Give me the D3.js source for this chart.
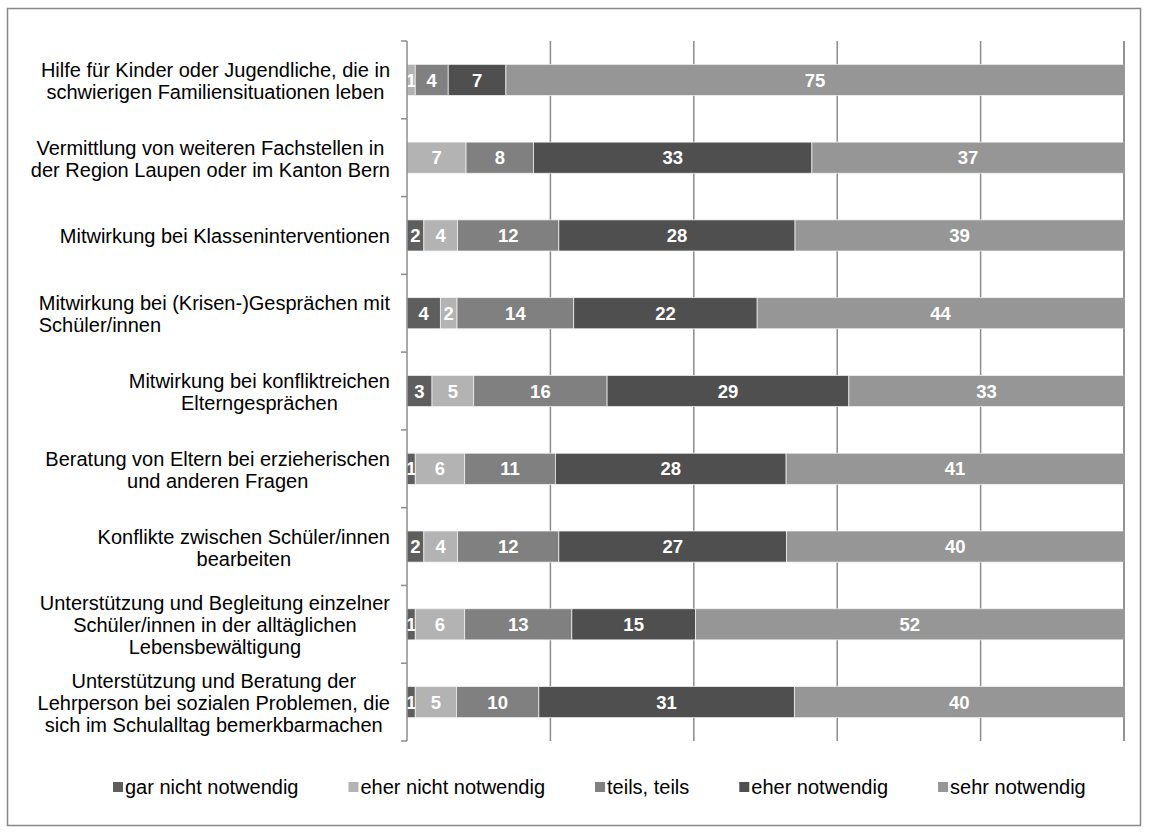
<!DOCTYPE html>
<html>
<head>
<meta charset="utf-8">
<script src="https://cdn.jsdelivr.net/npm/d3@7"></script>
<style>
  html, body { margin: 0; padding: 0; background: #fff; }
  svg { display: block; font-family: "Liberation Sans", Arial, sans-serif; }
</style>
</head>
<body>
<svg id="chart" width="1149" height="834"></svg>
<script>
// ---- data ----
const categories = [
  "Hilfe für Kinder oder Jugendliche, die in\nschwierigen Familiensituationen leben",
  "Vermittlung von weiteren Fachstellen in\nder Region Laupen oder im Kanton Bern",
  "Mitwirkung bei Klasseninterventionen",
  "Mitwirkung bei (Krisen-)Gesprächen mit\nSchüler/innen ",
  "Mitwirkung bei konfliktreichen\nElterngesprächen",
  "Beratung von Eltern bei erzieherischen\nund anderen Fragen",
  "Konflikte zwischen Schüler/innen\nbearbeiten",
  "Unterstützung und Begleitung einzelner\nSchüler/innen in der alltäglichen\nLebensbewältigung",
  "Unterstützung und Beratung der\nLehrperson bei sozialen Problemen, die\nsich im Schulalltag bemerkbarmachen"
];
const seriesNames = ["gar nicht notwendig", "eher nicht notwendig", "teils, teils", "eher notwendig", "sehr notwendig"];
const garNicht   = [0, 0, 2, 4, 3, 1, 2, 1, 1];
const eherNicht  = [1, 7, 4, 2, 5, 6, 4, 6, 5];
const teilsTeils = [4, 8, 12, 14, 16, 11, 12, 13, 10];
const eherNotw   = [7, 33, 28, 22, 29, 28, 27, 15, 31];
const sehrNotw   = [75, 37, 39, 44, 33, 41, 40, 52, 40];
const seriesColors = ["#5e5e5e", "#b3b3b3", "#808080", "#4f4f4f", "#969696"];
const xTicks = [0, 20, 40, 60, 80, 100];

// ---- layout ----
const svg = d3.select("#chart");
const plot = { left: 407, right: 1124, top: 41, bottom: 741 };
const fontSize = 20;

svg.append("rect")
  .attr("x", 7.5).attr("y", 8.5).attr("width", 1133).attr("height", 817)
  .attr("fill", "#fff").attr("stroke", "#888").attr("stroke-width", 1.5);

const seriesValues = [garNicht, eherNicht, teilsTeils, eherNotw, sehrNotw];
const rows = categories.map((c, i) => {
  const vals = seriesValues.map(s => s[i]);
  const total = d3.sum(vals);
  const obj = { cat: c, total };
  seriesNames.forEach((n, k) => obj[n] = vals[k] / total * 100);
  seriesNames.forEach((n, k) => obj["raw_" + n] = vals[k]);
  return obj;
});

const x = d3.scaleLinear().domain([0, 100]).range([plot.left, plot.right]);
const y = d3.scaleBand().domain(categories).range([plot.top, plot.bottom]).paddingInner(0.6).paddingOuter(0.3);
const band = d3.scaleBand().domain(categories).range([plot.top, plot.bottom]);

// gridlines
svg.append("g").selectAll("line")
  .data(xTicks.filter(t => t > 0))
  .join("line")
  .attr("x1", d => x(d)).attr("x2", d => x(d))
  .attr("y1", plot.top).attr("y2", plot.bottom)
  .attr("stroke", "#8c8c8c").attr("stroke-width", 1.5);

// stacked bars
const stack = d3.stack().keys(seriesNames)(rows);
const color = d3.scaleOrdinal().domain(seriesNames).range(seriesColors);

const layers = svg.append("g").selectAll("g")
  .data(stack).join("g")
  .attr("fill", d => color(d.key));

layers.selectAll("rect")
  .data(d => d.map(p => ({ p, key: d.key })))
  .join("rect")
  .attr("x", d => x(d.p[0]))
  .attr("y", d => y(d.p.data.cat))
  .attr("width", d => Math.max(0, x(d.p[1]) - x(d.p[0])))
  .attr("height", y.bandwidth())
  .attr("stroke", "#f2f2f2").attr("stroke-width", 0.75);

// data labels
layers.selectAll("text")
  .data(d => d.map(p => ({ p, key: d.key })).filter(d => d.p.data["raw_" + d.key] > 0))
  .join("text")
  .attr("x", d => (x(d.p[0]) + x(d.p[1])) / 2)
  .attr("y", d => y(d.p.data.cat) + y.bandwidth() / 2)
  .attr("dy", "0.36em")
  .attr("text-anchor", "middle")
  .attr("fill", "#fff")
  .attr("font-weight", "bold")
  .attr("font-size", 18.5)
  .text(d => d.p.data["raw_" + d.key]);

// gridline at right end over bars
svg.append("line")
  .attr("x1", x(100)).attr("x2", x(100)).attr("y1", plot.top).attr("y2", plot.bottom)
  .attr("stroke", "#8c8c8c").attr("stroke-width", 1.5);

// category axis
const axisG = svg.append("g");
axisG.append("line")
  .attr("x1", plot.left).attr("x2", plot.left).attr("y1", plot.top).attr("y2", plot.bottom)
  .attr("stroke", "#8c8c8c").attr("stroke-width", 1.5);
const bounds = categories.map(c => band(c)).concat([plot.bottom]);
axisG.selectAll("line.tick").data(bounds).join("line").attr("class", "tick")
  .attr("x1", plot.left - 6).attr("x2", plot.left)
  .attr("y1", d => d).attr("y2", d => d)
  .attr("stroke", "#8c8c8c").attr("stroke-width", 1.5);

// category labels
const lineH = 22;
const labelRight = 390;
categories.forEach(c => {
  const lines = c.split("\n");
  const g = svg.append("g");
  const cy = band(c) + band.bandwidth() / 2 + 1;
  const texts = lines.map((ln, i) => g.append("text")
    .attr("font-size", fontSize)
    .attr("fill", "#000")
    .attr("y", cy + (i - (lines.length - 1) / 2) * lineH)
    .attr("dy", "0.35em")
    .text(ln.trimEnd()));
  const widths = texts.map(t => t.node().getComputedTextLength());
  const maxW = d3.max(widths);
  const left = labelRight - maxW;
  texts.forEach((t, i) => {
    if (lines[i].endsWith(" ")) t.attr("x", left);
    else t.attr("x", left + (maxW - widths[i]) / 2);
  });
});

// legend
const legend = svg.append("g");
let lx = 113;
const ly = 787;
seriesNames.forEach((n, k) => {
  legend.append("rect").attr("x", lx).attr("y", ly - 5).attr("width", 10).attr("height", 10)
    .attr("fill", seriesColors[k]);
  const t = legend.append("text").attr("x", lx + 12).attr("y", ly).attr("dy", "0.35em")
    .attr("font-size", fontSize).attr("fill", "#000").text(n);
  lx += 12 + t.node().getComputedTextLength() + 50;
});
</script>
</body>
</html>
